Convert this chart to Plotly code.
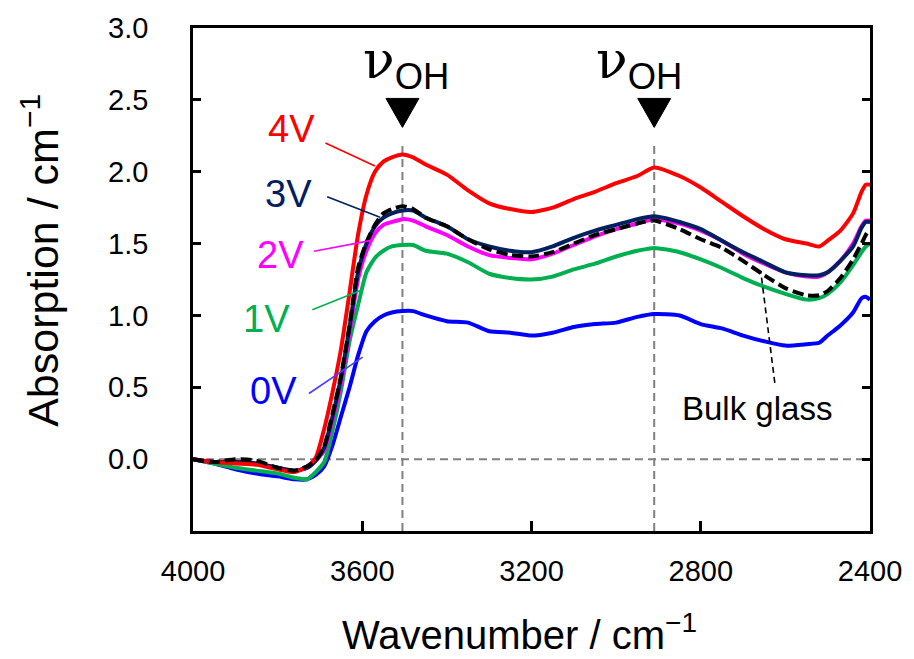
import plotly.graph_objects as go

# ---------------- data ----------------
wavenumber = [4000, 3950, 3900, 3850, 3800, 3760, 3730, 3710, 3690, 3670, 3650, 3630, 3610, 3590,
              3570, 3550, 3530, 3505, 3480, 3450, 3400, 3350, 3300, 3250, 3200, 3150, 3100, 3050,
              3000, 2950, 2910, 2850, 2800, 2750, 2700, 2650, 2600, 2550, 2520, 2500, 2470, 2440,
              2420, 2410, 2400]

abs_4v = [0.00, -0.02, -0.03, -0.04, -0.07, -0.09, -0.05, 0.01, 0.21, 0.47, 0.77, 1.16, 1.56, 1.84,
          2.00, 2.07, 2.10, 2.12, 2.10, 2.05, 1.98, 1.87, 1.78, 1.74, 1.72, 1.75, 1.81, 1.86,
          1.92, 1.97, 2.03, 1.97, 1.89, 1.79, 1.69, 1.60, 1.53, 1.50, 1.48, 1.52, 1.59, 1.71,
          1.86, 1.91, 1.91]
abs_3v = [0.00, -0.02, -0.02, -0.03, -0.06, -0.08, -0.06, -0.01, 0.08, 0.30, 0.57, 0.92, 1.30, 1.50,
          1.62, 1.68, 1.71, 1.73, 1.73, 1.68, 1.62, 1.53, 1.48, 1.45, 1.44, 1.48, 1.54, 1.59,
          1.63, 1.67, 1.69, 1.65, 1.60, 1.52, 1.44, 1.37, 1.30, 1.28, 1.28, 1.30, 1.38, 1.48,
          1.61, 1.65, 1.65]
abs_2v = [0.00, -0.02, -0.02, -0.03, -0.06, -0.08, -0.06, -0.01, 0.06, 0.27, 0.53, 0.88, 1.25, 1.45,
          1.57, 1.63, 1.65, 1.67, 1.66, 1.62, 1.56, 1.48, 1.42, 1.40, 1.39, 1.43, 1.49, 1.55,
          1.60, 1.64, 1.67, 1.64, 1.59, 1.52, 1.43, 1.36, 1.30, 1.27, 1.27, 1.30, 1.38, 1.50,
          1.62, 1.66, 1.66]
abs_1v = [0.00, -0.03, -0.06, -0.08, -0.10, -0.13, -0.14, -0.09, -0.02, 0.20, 0.48, 0.82, 1.07, 1.30,
          1.40, 1.45, 1.48, 1.49, 1.49, 1.45, 1.43, 1.37, 1.29, 1.26, 1.25, 1.27, 1.32, 1.36,
          1.41, 1.45, 1.47, 1.44, 1.39, 1.33, 1.26, 1.20, 1.15, 1.11, 1.12, 1.15, 1.23, 1.35,
          1.44, 1.48, 1.50]
abs_0v = [0.00, -0.03, -0.07, -0.10, -0.12, -0.14, -0.14, -0.11, -0.05, 0.10, 0.30, 0.50, 0.72, 0.89,
          0.96, 1.00, 1.02, 1.03, 1.03, 1.00, 0.96, 0.95, 0.89, 0.88, 0.86, 0.88, 0.92, 0.94,
          0.95, 0.99, 1.01, 1.00, 0.94, 0.91, 0.86, 0.82, 0.79, 0.80, 0.81, 0.86, 0.93, 1.02,
          1.12, 1.13, 1.11]
abs_bulk = [0.00, -0.02, 0.00, -0.01, -0.06, -0.08, -0.05, -0.01, 0.09, 0.32, 0.58, 0.93, 1.33, 1.51,
            1.63, 1.71, 1.74, 1.76, 1.74, 1.68, 1.62, 1.53, 1.46, 1.42, 1.41, 1.44, 1.50, 1.56,
            1.60, 1.64, 1.66, 1.60, 1.53, 1.47, 1.38, 1.28, 1.19, 1.14, 1.14, 1.17, 1.26, 1.39,
            1.50, 1.56, 1.60]

x_ticks = [4000, 3600, 3200, 2800, 2400]
y_ticks = [0.0, 0.5, 1.0, 1.5, 2.0, 2.5, 3.0]
y_tick_text = ["0.0", "0.5", "1.0", "1.5", "2.0", "2.5", "3.0"]
peak_positions = [3505, 2910]

FONT = "Liberation Sans, Arial, sans-serif"

series = [
    ("0V", abs_0v, "#0000FF", None),
    ("1V", abs_1v, "#00B050", None),
    ("2V", abs_2v, "#FF00FF", None),
    ("3V", abs_3v, "#002060", None),
    ("4V", abs_4v, "#FF0000", None),
    ("Bulk glass", abs_bulk, "#000000", "11px,5px"),
]

fig = go.Figure()
for name, vals, color, dash in series:
    fig.add_trace(go.Scatter(
        x=wavenumber, y=vals, mode="lines", name=name,
        line=dict(color=color, width=4, dash=dash if dash else "solid", shape="spline", smoothing=0.6),
        showlegend=False, hoverinfo="skip"))

# dashed reference lines
for p in peak_positions:
    fig.add_shape(type="line", xref="x", yref="y", x0=p, x1=p, y0=-0.5, y1=2.2,
                  line=dict(color="#808080", width=2, dash="8px,5px"), layer="below")
fig.add_shape(type="line", xref="x", yref="y", x0=4000, x1=2400, y0=0, y1=0,
              line=dict(color="#808080", width=2, dash="8px,5px"), layer="below")

# triangles marking the peaks
for p in peak_positions:
    fig.add_shape(type="path", xref="x", yref="y", xsizemode="pixel", ysizemode="pixel",
                  xanchor=p, yanchor=2.51, path="M -16.5,0 L 16.5,0 L 0,-29 Z",
                  fillcolor="black", line=dict(color="black", width=1))

# nu_OH labels
for xc in [3497, 2945]:
    fig.add_annotation(x=xc, y=2.75, xref="x", yref="y", showarrow=False,
                       text="<span style='font-family:DejaVu Serif'>ν</span><sub>OH</sub>",
                       font=dict(family=FONT, size=52, color="black"),
                       xanchor="center", yanchor="middle")

# series labels with leader lines
labels = [
    ("4V", "#FF0000", "#FF0000", 3768, 2.297, (3687, 2.20, 3570, 2.04)),
    ("3V", "#002060", "#002060", 3775, 1.848, (3683, 1.826, 3558, 1.683)),
    ("2V", "#FF00FF", "#FF00FF", 3794, 1.421, (3714, 1.446, 3578, 1.522)),
    ("1V", "#00B050", "#00B050", 3827, 0.972, (3718, 1.039, 3601, 1.177)),
    ("0V", "#0000FF", "#4F3DFF", 3810, 0.476, (3726, 0.457, 3599, 0.710)),
]
for txt, tcol, lcol, tx, ty, (x0, y0, x1, y1) in labels:
    fig.add_annotation(x=tx, y=ty, xref="x", yref="y", text=txt, showarrow=False,
                       font=dict(family=FONT, size=38, color=tcol), xanchor="center", yanchor="middle")
    fig.add_shape(type="line", xref="x", yref="y", x0=x0, y0=y0, x1=x1, y1=y1,
                  line=dict(color=lcol, width=1.6))

fig.add_annotation(x=2668, y=0.352, xref="x", yref="y", text="Bulk glass", showarrow=False,
                   font=dict(family=FONT, size=33, color="black"), xanchor="center", yanchor="middle")
fig.add_shape(type="line", xref="x", yref="y", x0=2625, y0=0.531, x1=2658, y1=1.303,
              line=dict(color="black", width=1.6, dash="6px,4px"))

# axis titles
fig.add_annotation(xref="paper", yref="y", x=0, y=1.38, xshift=-153, textangle=-90,
                   text="Absorption / cm<sup>−1</sup>", showarrow=False,
                   font=dict(family=FONT, size=43, color="black"), xanchor="center", yanchor="middle")
fig.add_annotation(xref="x", yref="paper", x=3229, y=0, yshift=-101,
                   text="Wavenumber / cm<sup>−1</sup>", showarrow=False,
                   font=dict(family=FONT, size=40, color="black"), xanchor="center", yanchor="middle")

fig.update_layout(
    width=914, height=659,
    margin=dict(l=193, r=38, t=23, b=128),
    paper_bgcolor="white", plot_bgcolor="white",
    font=dict(family=FONT, color="black"),
)
fig.update_xaxes(
    range=[4000, 2400], tickvals=x_ticks, ticktext=[str(v) for v in x_ticks],
    ticks="inside", ticklen=10, tickwidth=2.5, tickcolor="black",
    showline=True, linecolor="black", linewidth=2.5, mirror=True,
    showgrid=False, zeroline=False,
    tickfont=dict(family=FONT, size=29, color="black"), ticklabelstandoff=12,
)
fig.update_yaxes(
    range=[-0.5, 3.0], tickvals=y_ticks, ticktext=y_tick_text,
    ticks="inside", ticklen=8, tickwidth=2.5, tickcolor="black",
    showline=True, linecolor="black", linewidth=2.5, mirror="ticks",
    showgrid=False, zeroline=False,
    tickfont=dict(family=FONT, size=29, color="black"), ticklabelstandoff=36,
)

fig.write_html("out.html")
